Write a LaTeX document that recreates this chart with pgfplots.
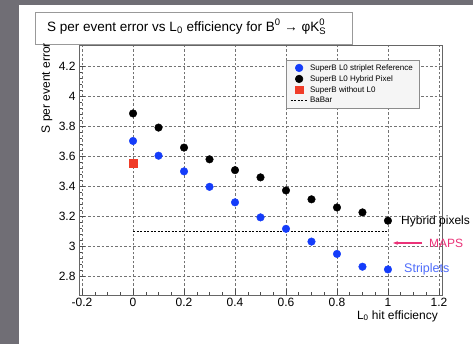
\documentclass[border=0pt]{standalone}
\usepackage{fontspec}
\setmainfont{Liberation Sans}
\usepackage{pgfplots}
\pgfplotsset{compat=1.18}
\usetikzlibrary{arrows.meta}
\definecolor{bgray}{RGB}{112,110,117}
\definecolor{rblue}{RGB}{20,60,250}
\definecolor{rred}{RGB}{240,60,40}
\definecolor{mpink}{RGB}{235,50,120}
\begin{document}
\begin{tikzpicture}[x=1pt,y=1pt]
\useasboundingbox (0,0) rectangle (473,344);
\fill[bgray] (0,0) rectangle (473,344);
\fill[white] (19,0) rectangle (473,339);
\begin{axis}[
  at={(79pt,49pt)}, anchor=south west, scale only axis,
  width=363pt, height=250pt,
  xmin=-0.212, xmax=1.212, ymin=2.678, ymax=4.34,
  xtick={-0.2,0,0.2,0.4,0.6,0.8,1,1.2},
  ytick={2.8,3,3.2,3.4,3.6,3.8,4,4.2},
  minor x tick num=3, minor y tick num=4,
  grid=major,
  major grid style={dash pattern=on 2.5pt off 2pt, black!55, line width=0.4pt},
  tick pos=left, tick align=inside,
  major tick length=6pt, minor tick length=3pt,
  tick style={black!70, line width=0.5pt},
  tick label style={font=\fontsize{12}{12}\selectfont},
  /pgf/number format/assume math mode=true,
  /pgf/number format/fixed,
  axis line style={black!60, line width=0.7pt},
  clip=false,
  legend style={at={(0.937,0.94)}, anchor=north east,
    font=\fontsize{8}{9}\selectfont, fill=black!4, draw=black!45,
    line width=0.6pt, row sep=-0.3pt, inner xsep=4pt, inner ysep=2pt},
  legend cell align=left,
]
\addplot[only marks, mark=*, mark size=3.8pt, rblue] coordinates {
(0,3.702) (0.1,3.604) (0.2,3.50) (0.3,3.397) (0.4,3.294) (0.5,3.194)
(0.6,3.118) (0.7,3.033) (0.8,2.951) (0.9,2.866) (1.0,2.848)};
\addlegendentry{SuperB L0 striplet Reference\hspace{6pt}}
\addplot[only marks, mark=*, mark size=3.8pt, black] coordinates {
(0,3.885) (0.1,3.791) (0.2,3.658) (0.3,3.58) (0.4,3.508) (0.5,3.46)
(0.6,3.373) (0.7,3.314) (0.8,3.26) (0.9,3.227) (1.0,3.172)};
\addlegendentry{SuperB L0 Hybrid Pixel}
\addplot[only marks, mark=square*, mark size=3.8pt, rred] coordinates {(0,3.553)};
\addlegendentry{SuperB without L0}
\addplot[black, dash pattern=on 2pt off 1.5pt, line width=0.9pt] coordinates {(0,3.1) (1,3.1)};
\addlegendentry{BaBar}
\end{axis}
\draw[black!40, fill=white, line width=0.8pt] (35,300) rectangle (352,332);
\node[anchor=west, font=\fontsize{13.5}{13.5}\selectfont, inner sep=0pt] at (47,317)
  {S per event error vs L\textsubscript{0} efficiency for B\textsuperscript{0} → φK$^{\mathrm{0}}_{\mathrm{S}}$};
\node[rotate=90, anchor=east, font=\fontsize{12}{12}\selectfont, inner sep=0pt] at (47,301) {S per event error};
\node[anchor=east, font=\fontsize{12}{12}\selectfont, inner sep=0pt] at (438,28) {L\textsubscript{0} hit efficiency};
\node[anchor=west, font=\fontsize{12}{12}\selectfont, inner sep=0pt] at (401,123) {Hybrid pixels};
\node[anchor=west, mpink, font=\fontsize{12}{12}\selectfont, inner sep=0pt] at (429,101) {MAPS};
\draw[mpink, -{Stealth[length=5pt]}, line width=1.2pt] (422,101) -- (393,101);
\node[anchor=west, rblue!75!white, font=\fontsize{12.5}{12.5}\selectfont, inner sep=0pt] at (404,75) {Striplets};
\end{tikzpicture}
\end{document}
